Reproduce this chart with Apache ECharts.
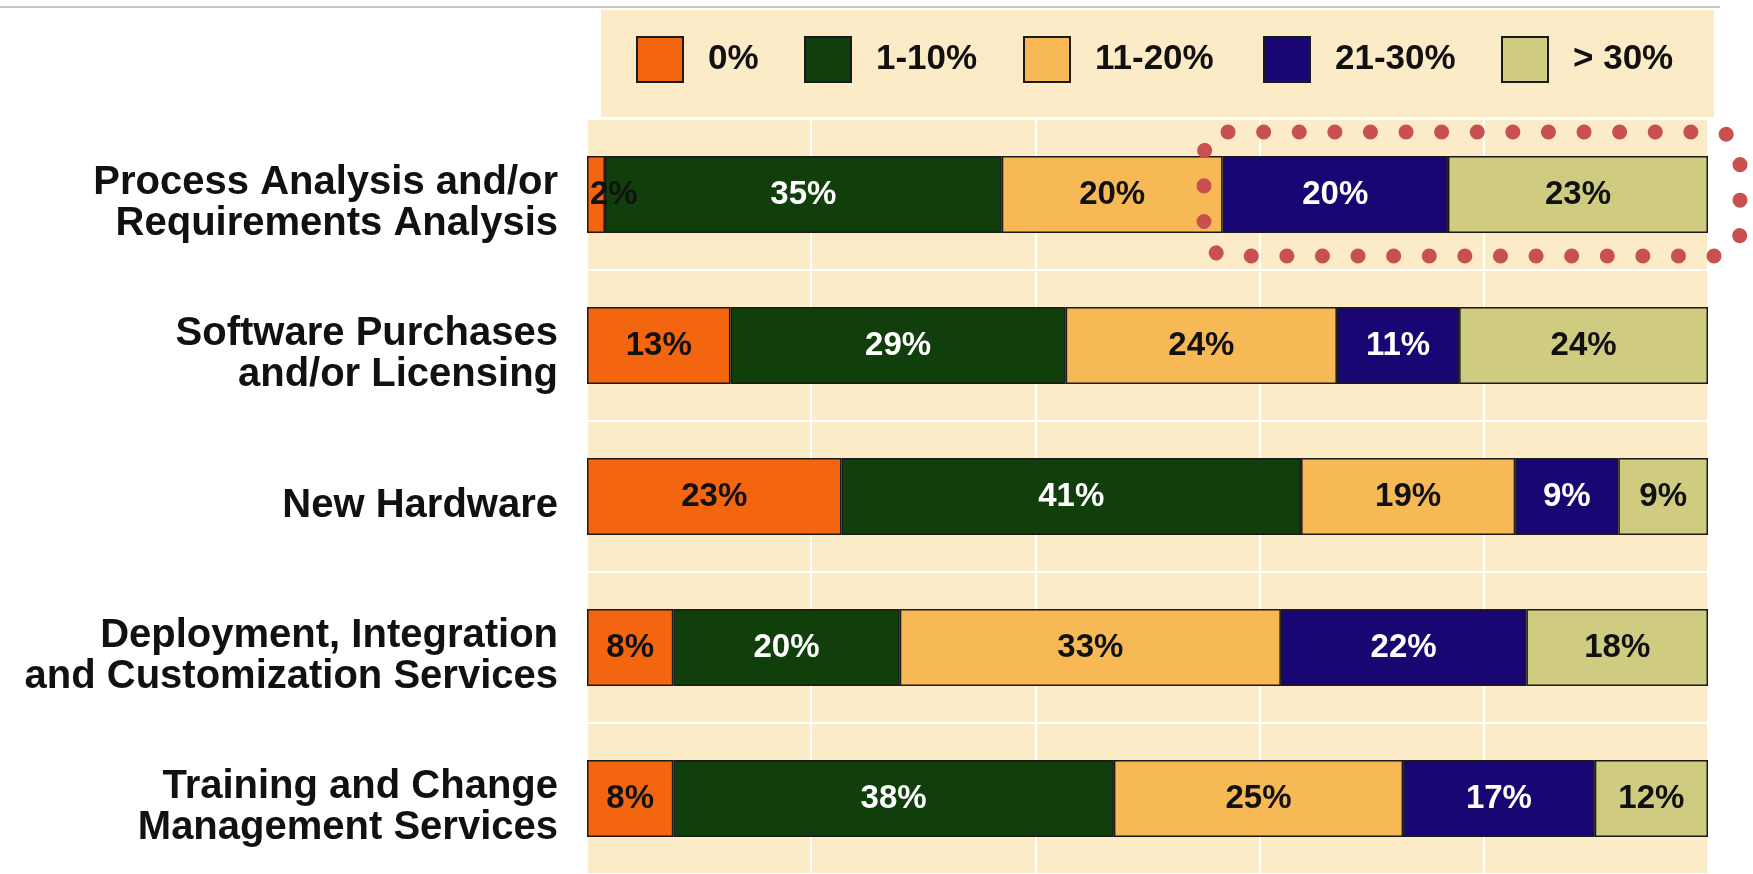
<!DOCTYPE html>
<html>
<head>
<meta charset="utf-8">
<script src="https://cdn.jsdelivr.net/npm/echarts@6/dist/echarts.min.js"></script>
<style>html,body{margin:0;padding:0;background:#fff;}#c{width:1753px;height:874px;}</style>
</head>
<body>
<div id="c"></div>
<script>
const categories = [
  'Process Analysis and/or\nRequirements Analysis',
  'Software Purchases\nand/or Licensing',
  'New Hardware',
  'Deployment, Integration\nand Customization Services',
  'Training and Change\nManagement Services'
];
const seriesNames = ['0%', '1-10%', '11-20%', '21-30%', '> 30%'];
const colors = ['#F3650F', '#113F0B', '#F7B955', '#1A0673', '#CFCB80'];
const labelColors = ['#111', '#fff', '#111', '#fff', '#111'];

// segment sizes (share of each bar)
const v0 = [1.6, 12.8, 22.7, 7.7, 7.7];
const v1 = [35.4, 29.9, 41.0, 20.2, 39.3];
const v2 = [19.7, 24.2, 19.1, 34.0, 25.8];
const v3 = [20.1, 10.9, 9.2, 21.9, 17.1];
const v4 = [23.2, 22.2, 8.0, 16.2, 10.1];
// labels printed on the segments
const t0 = ['2%', '13%', '23%', '8%', '8%'];
const t1 = ['35%', '29%', '41%', '20%', '38%'];
const t2 = ['20%', '24%', '19%', '33%', '25%'];
const t3 = ['20%', '11%', '9%', '22%', '17%'];
const t4 = ['23%', '24%', '9%', '18%', '12%'];
const xTicks = [0, 20, 40, 60, 80, 100];

const values = [v0, v1, v2, v3, v4];
const texts = [t0, t1, t2, t3, t4];
const FONT = '"Liberation Sans", Arial, sans-serif';

const series = values.map((vals, si) => ({
  name: seriesNames[si],
  type: 'bar',
  stack: 'all',
  barWidth: 77,
  itemStyle: { color: colors[si], borderColor: '#1a1a1a', borderWidth: 1.5 },
  label: {
    show: true,
    position: 'inside',
    color: labelColors[si],
    fontFamily: FONT,
    fontWeight: 'bold',
    fontSize: 33,
    formatter: p => texts[si][p.dataIndex]
  },
  data: vals.map((v, i) => {
    if (si === 0 && v < 4) {
      return { value: v, label: { position: 'insideLeft', distance: 0, offset: [3, 0] } };
    }
    return v;
  })
}));

const legendLefts = [636, 804, 1023, 1263, 1501];
const legends = seriesNames.map((n, i) => ({
  data: [{ name: n, icon: 'rect' }],
  left: legendLefts[i],
  top: 36,
  orient: 'horizontal',
  itemWidth: 46,
  itemHeight: 45,
  padding: 0,
  selectedMode: false,
  textStyle: {
    fontFamily: FONT,
    fontWeight: 'bold',
    fontSize: 35,
    color: '#111',
    padding: [0, 0, 0, 20]
  }
}));

const chart = echarts.init(document.getElementById('c'), null, { renderer: 'canvas' });
chart.setOption({
  animation: false,
  backgroundColor: '#fff',
  legend: legends,
  grid: {
    left: 587, top: 119, width: 1121, height: 760,
    show: true, backgroundColor: '#FBEBC6', borderWidth: 0,
    containLabel: false
  },
  xAxis: {
    type: 'value', min: xTicks[0], max: xTicks[xTicks.length - 1], interval: xTicks[1] - xTicks[0],
    axisLabel: { show: false }, axisLine: { show: false }, axisTick: { show: false },
    splitLine: { show: true, lineStyle: { color: '#ffffff', width: 2 } }
  },
  yAxis: {
    type: 'category', data: categories, inverse: true,
    axisLine: { show: false }, axisTick: { show: false },
    splitLine: { show: true, lineStyle: { color: '#ffffff', width: 2 } },
    axisLabel: {
      margin: 29, fontFamily: FONT, fontWeight: 'bold', fontSize: 40,
      lineHeight: 41, color: '#111', align: 'right',
      formatter: v => '{s| }\n' + v,
      rich: { s: { fontSize: 2, lineHeight: 18, height: 18 } }
    }
  },
  graphic: [
    { type: 'line', z: 0, shape: { x1: 0, y1: 7, x2: 1720, y2: 7 }, style: { stroke: '#c9c9c9', lineWidth: 2 } },
    { type: 'rect', z: 0, shape: { x: 601, y: 10, width: 1113, height: 107 }, style: { fill: '#FBEBC6' } },
    { type: 'rect', z: 100, shape: { x: 1204, y: 132, width: 536, height: 124, r: 24 },
      style: { fill: 'none', stroke: '#C8504F', lineWidth: 15, lineDash: [0.1, 35.5], lineCap: 'round' } }
  ],
  series: series
});
</script>
</body>
</html>
